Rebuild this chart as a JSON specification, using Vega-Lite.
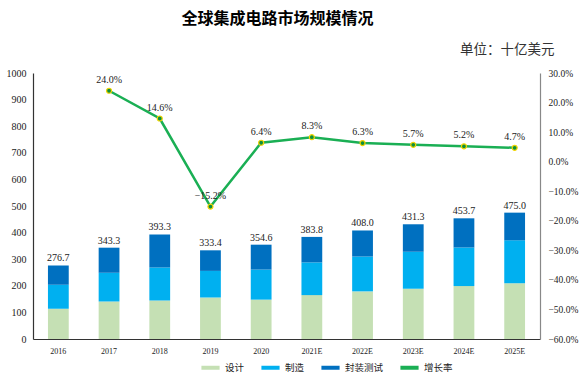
{
  "$schema": "https://vega.github.io/schema/vega-lite/v6.json",
  "width": 507,
  "height": 266,
  "autosize": {"type": "none"},
  "padding": {"left": 33, "top": 73, "right": 39, "bottom": 35},
  "background": "white",
  "title": {
    "text": "全球集成电路市场规模情况",
    "font": "Noto Sans CJK SC",
    "fontSize": 16,
    "fontWeight": "bold",
    "color": "#000000",
    "anchor": "middle",
    "dx": -9,
    "offset": 15
  },
  "datasets": {
    "seg": [
      {"year": "2016", "type": "设计", "ord": 1, "value": 114},
      {"year": "2016", "type": "制造", "ord": 2, "value": 90},
      {"year": "2016", "type": "封装测试", "ord": 3, "value": 72.7},
      {"year": "2017", "type": "设计", "ord": 1, "value": 141},
      {"year": "2017", "type": "制造", "ord": 2, "value": 108},
      {"year": "2017", "type": "封装测试", "ord": 3, "value": 94.3},
      {"year": "2018", "type": "设计", "ord": 1, "value": 145},
      {"year": "2018", "type": "制造", "ord": 2, "value": 124},
      {"year": "2018", "type": "封装测试", "ord": 3, "value": 124.3},
      {"year": "2019", "type": "设计", "ord": 1, "value": 156},
      {"year": "2019", "type": "制造", "ord": 2, "value": 100},
      {"year": "2019", "type": "封装测试", "ord": 3, "value": 77.4},
      {"year": "2020", "type": "设计", "ord": 1, "value": 148},
      {"year": "2020", "type": "制造", "ord": 2, "value": 113},
      {"year": "2020", "type": "封装测试", "ord": 3, "value": 93.6},
      {"year": "2021E", "type": "设计", "ord": 1, "value": 165},
      {"year": "2021E", "type": "制造", "ord": 2, "value": 123},
      {"year": "2021E", "type": "封装测试", "ord": 3, "value": 95.8},
      {"year": "2022E", "type": "设计", "ord": 1, "value": 179},
      {"year": "2022E", "type": "制造", "ord": 2, "value": 131},
      {"year": "2022E", "type": "封装测试", "ord": 3, "value": 98},
      {"year": "2023E", "type": "设计", "ord": 1, "value": 189},
      {"year": "2023E", "type": "制造", "ord": 2, "value": 139},
      {"year": "2023E", "type": "封装测试", "ord": 3, "value": 103.3},
      {"year": "2024E", "type": "设计", "ord": 1, "value": 199},
      {"year": "2024E", "type": "制造", "ord": 2, "value": 145},
      {"year": "2024E", "type": "封装测试", "ord": 3, "value": 109.7},
      {"year": "2025E", "type": "设计", "ord": 1, "value": 210},
      {"year": "2025E", "type": "制造", "ord": 2, "value": 161},
      {"year": "2025E", "type": "封装测试", "ord": 3, "value": 104}
    ],
    "yr": [
      {"year": "2016", "total": 276.7, "growth": null},
      {"year": "2017", "total": 343.3, "growth": 0.24},
      {"year": "2018", "total": 393.3, "growth": 0.146},
      {"year": "2019", "total": 333.4, "growth": -0.152},
      {"year": "2020", "total": 354.6, "growth": 0.064},
      {"year": "2021E", "total": 383.8, "growth": 0.083},
      {"year": "2022E", "total": 408.0, "growth": 0.063},
      {"year": "2023E", "total": 431.3, "growth": 0.057},
      {"year": "2024E", "total": 453.7, "growth": 0.052},
      {"year": "2025E", "total": 475.0, "growth": 0.047}
    ]
  },
  "config": {
    "view": {"stroke": null},
    "axis": {
      "grid": false,
      "tickSize": 0,
      "labelFont": "Liberation Serif",
      "labelColor": "#222222",
      "domainColor": "#333333",
      "labelOverlap": false,
      "title": null
    },
    "axisLeft": {"tickCount": 20},
    "legend": {
      "labelFont": "Noto Sans CJK SC",
      "labelFontSize": 9.5,
      "labelColor": "#222222"
    }
  },
  "encoding": {
    "x": {
      "field": "year",
      "type": "ordinal",
      "sort": ["2016", "2017", "2018", "2019", "2020", "2021E", "2022E", "2023E", "2024E", "2025E"],
      "scale": {"paddingInner": 0.59},
      "axis": {"labelAngle": 0, "labelFontSize": 8, "labelPadding": 8, "domainColor": "#333333", "domainWidth": 1.2}
    }
  },
  "layer": [
    {
      "layer": [
        {
          "data": {"name": "seg"},
          "mark": {"type": "bar"},
          "encoding": {
            "y": {
              "field": "value",
              "type": "quantitative",
              "stack": "zero",
              "scale": {"domain": [0, 1000], "nice": false},
              "axis": {"values": [0, 100, 200, 300, 400, 500, 600, 700, 800, 900, 1000], "tickCount": 20, "format": "d", "labelFontSize": 10, "labelPadding": 7, "domainWidth": 1.2}
            },
            "order": {"field": "ord", "type": "quantitative"},
            "color": {
              "field": "type",
              "type": "nominal",
              "scale": {
                "domain": ["设计", "制造", "封装测试", "增长率"],
                "range": ["#C5E0B4", "#00B0F0", "#0070C0", "#1AAF54"]
              },
              "legend": {
                "orient": "none",
                "legendX": 166,
                "legendY": 283,
                "direction": "horizontal",
                "title": null,
                "symbolType": "stroke",
                "symbolStrokeWidth": 4,
                "symbolSize": 330,
                "columnPadding": 8,
                "labelOffset": 3
              }
            }
          }
        },
        {
          "data": {"name": "yr"},
          "mark": {"type": "text", "baseline": "alphabetic", "dy": -4, "font": "Liberation Serif", "fontSize": 10, "color": "#222222"},
          "encoding": {
            "y": {
              "field": "total",
              "type": "quantitative",
              "axis": {"values": [0, 100, 200, 300, 400, 500, 600, 700, 800, 900, 1000], "tickCount": 20, "format": "d", "labelFontSize": 10, "labelPadding": 7, "domainWidth": 1.2}
            },
            "text": {"field": "total", "type": "quantitative", "format": ".1f"}
          }
        }
      ]
    },
    {
      "data": {"name": "yr"},
      "transform": [{"filter": "datum.growth != null"}],
      "encoding": {
        "y": {
          "field": "growth",
          "type": "quantitative",
          "scale": {"domain": [-0.6, 0.3]},
          "axis": {
            "orient": "right",
            "format": ".1%",
            "values": [-0.6, -0.5, -0.4, -0.3, -0.2, -0.1, 0, 0.1, 0.2, 0.3],
            "tickCount": 20,
            "labelFontSize": 9.5,
            "labelPadding": 8,
            "domainColor": "#888888",
            "domainWidth": 1.2,
            "title": "单位：十亿美元",
            "titleFont": "Noto Sans CJK SC",
            "titleFontSize": 13.5,
            "titleFontWeight": "normal",
            "titleColor": "#333333",
            "titleAngle": 0,
            "titleAlign": "right",
            "titleBaseline": "alphabetic",
            "titleX": 14,
            "titleY": -20
          }
        }
      },
      "layer": [
        {
          "mark": {"type": "line", "strokeWidth": 2.5},
          "encoding": {"color": {"datum": "增长率"}}
        },
        {
          "mark": {"type": "point", "filled": true, "size": 25, "fill": "#0E8F3C", "stroke": "#F2D500", "strokeWidth": 1.2, "opacity": 1}
        },
        {
          "mark": {"type": "text", "baseline": "alphabetic", "font": "Liberation Serif", "fontSize": 10, "color": "#222222"},
          "encoding": {
            "text": {"field": "growth", "type": "quantitative", "format": ".1%"},
            "yOffset": {"condition": {"test": "datum.growth < 0", "value": -22}, "value": -8}
          }
        }
      ]
    }
  ],
  "resolve": {"scale": {"y": "independent"}}
}
